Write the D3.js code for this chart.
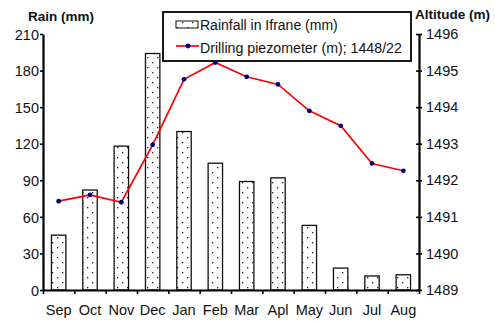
<!DOCTYPE html>
<html>
<head>
<meta charset="utf-8">
<script src="https://cdn.jsdelivr.net/npm/d3@7"></script>
<style>
  body { margin: 0; background: #fff; }
  svg { font-family: "Liberation Sans", Arial, sans-serif; }
</style>
</head>
<body>
<svg id="chart" width="495" height="322"></svg>
<script>
// values
var months = ["Sep", "Oct", "Nov", "Dec", "Jan", "Feb", "Mar", "Apl", "May", "Jun", "Jul", "Aug"];
var rainfall = [45, 82, 118, 194, 130, 104, 89, 92, 53, 18, 11.5, 12.5];
var altitude = [1491.43, 1491.6, 1491.4, 1492.97, 1494.76, 1495.22, 1494.83, 1494.62, 1493.9, 1493.49, 1492.46, 1492.26];
var rainTicks = [0, 30, 60, 90, 120, 150, 180, 210];
var altTicks = [1489, 1490, 1491, 1492, 1493, 1494, 1495, 1496];

var margin = { top: 34, right: 76, bottom: 32, left: 43 };
var width = 495, height = 322;

var svg = d3.select("#chart");

// dotted fill of the bars
svg.append("defs").append("pattern")
    .attr("id", "dots")
    .attr("patternUnits", "userSpaceOnUse")
    .attr("width", 10).attr("height", 10)
    .call(function (p) {
        p.append("rect").attr("width", 10).attr("height", 10).attr("fill", "#fff");
        p.append("rect").attr("x", 2).attr("y", 2).attr("width", 1.3).attr("height", 1.3).attr("fill", "#222");
        p.append("rect").attr("x", 7).attr("y", 7).attr("width", 1.3).attr("height", 1.3).attr("fill", "#222");
    });

var x = d3.scaleBand()
    .domain(months)
    .range([margin.left, width - margin.right])
    .paddingInner(0.54)
    .paddingOuter(0.27);

var xTicks = d3.scaleLinear()
    .domain([0, months.length])
    .range([margin.left, width - margin.right]);

var yRain = d3.scaleLinear()
    .domain([0, 210])
    .range([height - margin.bottom, margin.top]);

var yAlt = d3.scaleLinear()
    .domain([1489, 1496])
    .range([height - margin.bottom, margin.top]);

// bars
svg.append("g")
    .selectAll("rect")
    .data(rainfall)
    .join("rect")
    .attr("x", function (d, i) { return x(months[i]); })
    .attr("width", x.bandwidth())
    .attr("y", function (d) { return yRain(d); })
    .attr("height", function (d) { return yRain(0) - yRain(d); })
    .attr("fill", "url(#dots)")
    .attr("stroke", "#111")
    .attr("stroke-width", 1.3);

// piezometer line
var line = d3.line()
    .x(function (d, i) { return x(months[i]) + x.bandwidth() / 2; })
    .y(function (d) { return yAlt(d); });

svg.append("path")
    .datum(altitude)
    .attr("fill", "none")
    .attr("stroke", "#ff0000")
    .attr("stroke-width", 1.7)
    .attr("d", line);

svg.append("g")
    .selectAll("circle")
    .data(altitude)
    .join("circle")
    .attr("cx", function (d, i) { return x(months[i]) + x.bandwidth() / 2; })
    .attr("cy", function (d) { return yAlt(d); })
    .attr("r", 2.4)
    .attr("fill", "#000080");

// axes
var styleAxis = function (g) {
    g.select(".domain").attr("stroke", "#000").attr("stroke-width", 2.2);
    g.selectAll(".tick line").attr("stroke", "#000").attr("stroke-width", 1.6);
    g.selectAll(".tick text").attr("fill", "#111").attr("font-size", "14.5px");
};

svg.append("g")
    .attr("transform", "translate(" + margin.left + ",0)")
    .call(d3.axisLeft(yRain).tickValues(rainTicks).tickSize(3).tickSizeOuter(0).tickPadding(1))
    .call(styleAxis)
    .call(function (g) { g.selectAll(".tick text").attr("dy", "0.36em"); });

svg.append("g")
    .attr("transform", "translate(" + (width - margin.right) + ",0)")
    .call(d3.axisRight(yAlt).tickValues(altTicks).tickFormat(d3.format("d")).tickSize(3).tickSizeOuter(0).tickPadding(4))
    .call(styleAxis)
    .call(function (g) { g.selectAll(".tick line").attr("x1", -3); });

svg.append("g")
    .attr("transform", "translate(0," + (height - margin.bottom) + ")")
    .call(d3.axisBottom(xTicks).ticks(12).tickFormat("").tickSize(4).tickSizeOuter(0))
    .call(styleAxis);

svg.append("g")
    .selectAll("text")
    .data(months)
    .join("text")
    .attr("x", function (d) { return x(d) + x.bandwidth() / 2; })
    .attr("y", height - 7)
    .attr("text-anchor", "middle")
    .attr("font-size", "14.5px")
    .attr("fill", "#111")
    .text(function (d) { return d; });

// axis titles
svg.append("text")
    .attr("x", 28).attr("y", 21)
    .attr("font-size", "13.5px").attr("font-weight", "bold")
    .attr("fill", "#111")
    .text("Rain (mm)");

svg.append("text")
    .attr("x", 415).attr("y", 19)
    .attr("font-size", "13.5px").attr("font-weight", "bold")
    .attr("fill", "#111")
    .text("Altitude (m)");

// legend
var legend = svg.append("g");

legend.append("rect")
    .attr("x", 163).attr("y", 12)
    .attr("width", 248).attr("height", 49)
    .attr("fill", "#fff")
    .attr("stroke", "#000")
    .attr("stroke-width", 1.8);

legend.append("rect")
    .attr("x", 176).attr("y", 21)
    .attr("width", 22).attr("height", 7)
    .attr("fill", "url(#dots)")
    .attr("stroke", "#111")
    .attr("stroke-width", 1);

legend.append("text")
    .attr("x", 200).attr("y", 30)
    .attr("font-size", "14px").attr("fill", "#111")
    .text("Rainfall in Ifrane (mm)");

legend.append("line")
    .attr("x1", 176).attr("x2", 199)
    .attr("y1", 46).attr("y2", 46)
    .attr("stroke", "#ff0000").attr("stroke-width", 1.7);

legend.append("circle")
    .attr("cx", 188).attr("cy", 46).attr("r", 2.4)
    .attr("fill", "#000080");

legend.append("text")
    .attr("x", 200).attr("y", 52.5)
    .attr("font-size", "14.2px").attr("fill", "#111")
    .text("Drilling piezometer (m); 1448/22");
</script>
</body>
</html>
